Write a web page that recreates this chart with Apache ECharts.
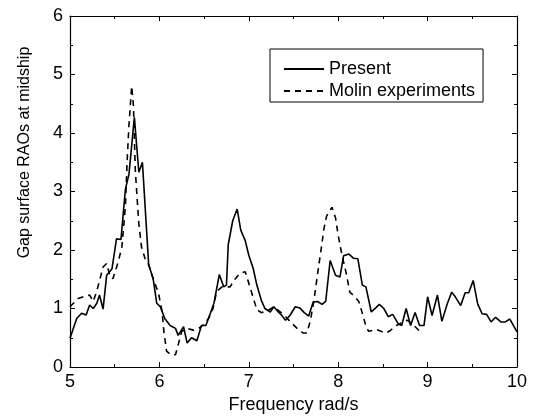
<!DOCTYPE html>
<html>
<head>
<meta charset="utf-8">
<script src="https://cdn.jsdelivr.net/npm/echarts@6/dist/echarts.min.js"></script>
<style>
html,body{margin:0;padding:0;background:#fff;}
#chart{width:537px;height:419px;}
</style>
</head>
<body>
<div id="chart"></div>
<script>
// Present (numerical) results
const presentFreq = [5.00,5.075,5.13,5.18,5.22,5.26,5.30,5.33,5.37,5.41,5.47,5.52,5.57,5.62,5.66,5.72,5.77,5.81,5.88,5.93,5.97,6.01,6.06,6.12,6.18,6.21,6.27,6.31,6.36,6.42,6.47,6.52,6.57,6.61,6.67,6.72,6.75,6.77,6.82,6.87,6.91,6.96,7.00,7.05,7.09,7.14,7.18,7.24,7.28,7.33,7.37,7.41,7.46,7.52,7.57,7.62,7.67,7.72,7.77,7.82,7.86,7.91,7.97,8.02,8.06,8.12,8.17,8.22,8.27,8.31,8.37,8.42,8.46,8.51,8.56,8.61,8.67,8.71,8.76,8.81,8.86,8.91,8.96,9.00,9.05,9.11,9.16,9.22,9.27,9.31,9.37,9.42,9.46,9.51,9.56,9.61,9.66,9.71,9.76,9.82,9.87,9.92,10.00];
const presentVal  = [0.49,0.83,0.92,0.89,1.06,1.00,1.09,1.23,0.99,1.57,1.68,2.19,2.18,3.04,3.30,4.27,3.33,3.50,1.75,1.51,1.09,1.03,0.83,0.71,0.66,0.54,0.69,0.41,0.50,0.45,0.71,0.71,0.92,1.09,1.58,1.37,1.40,2.09,2.50,2.70,2.34,2.16,1.91,1.68,1.40,1.14,1.00,0.94,1.03,0.94,0.88,0.80,0.88,1.03,1.01,0.93,0.87,1.11,1.12,1.07,1.12,1.82,1.57,1.54,1.90,1.93,1.86,1.85,1.40,1.37,0.94,1.01,1.07,1.00,0.86,0.90,0.74,0.71,1.00,0.71,0.93,0.71,0.71,1.20,0.88,1.23,0.78,1.08,1.28,1.20,1.05,1.27,1.27,1.48,1.08,0.91,0.90,0.77,0.85,0.77,0.77,0.82,0.60];

// Molin experiments
const molinFreq = [5.00,5.09,5.15,5.22,5.26,5.30,5.37,5.41,5.45,5.48,5.54,5.58,5.62,5.64,5.66,5.69,5.71,5.73,5.75,5.77,5.80,5.84,5.88,5.93,5.99,6.03,6.05,6.08,6.13,6.18,6.21,6.25,6.31,6.38,6.44,6.49,6.55,6.60,6.64,6.70,6.79,6.85,6.90,6.96,7.00,7.05,7.09,7.14,7.20,7.28,7.33,7.40,7.48,7.54,7.61,7.65,7.69,7.73,7.77,7.81,7.84,7.87,7.93,7.97,8.00,8.04,8.09,8.13,8.18,8.23,8.27,8.31,8.34,8.40,8.45,8.53,8.58,8.64,8.70,8.77,8.84,8.92];
const molinVal  = [1.03,1.17,1.20,1.23,1.12,1.30,1.71,1.77,1.54,1.51,1.80,2.05,2.75,3.55,4.15,4.80,4.46,3.38,2.90,2.45,2.05,1.85,1.75,1.51,1.26,0.95,0.61,0.27,0.21,0.21,0.38,0.61,0.66,0.63,0.66,0.72,0.83,1.00,1.29,1.37,1.37,1.51,1.60,1.63,1.43,1.18,0.98,0.93,0.95,1.03,0.97,0.88,0.75,0.66,0.58,0.58,0.80,1.15,1.60,2.02,2.36,2.58,2.73,2.55,2.25,1.93,1.60,1.28,1.21,1.12,0.92,0.70,0.61,0.63,0.63,0.58,0.62,0.70,0.75,0.80,0.72,0.60];

const seriesNames = ['Present', 'Molin experiments'];
const xName = 'Frequency rad/s';
const yName = 'Gap surface RAOs at midship';

const zip = (a, b) => a.map((v, i) => [v, b[i]]);
const FONT = "'Liberation Sans', Arial, sans-serif";

const chart = echarts.init(document.getElementById('chart'), null, {renderer: 'canvas'});

const tickCommon = {
  axisLine: {show: true, onZero: false, lineStyle: {color: '#000', width: 1.2}},
  axisTick: {show: true, inside: true, length: 5, lineStyle: {color: '#000', width: 1}},
  minorTick: {show: true, splitNumber: 2, length: 3, lineStyle: {color: '#000', width: 1}},
  splitLine: {show: false},
  minorSplitLine: {show: false}
};

chart.setOption({
  animation: false,
  backgroundColor: '#fff',
  textStyle: {fontFamily: FONT, color: '#000'},
  grid: {left: 70, right: 20, top: 16, bottom: 50, containLabel: false},
  legend: {
    orient: 'vertical',
    left: 270, top: 49,
    padding: [11, 8, 2, 13],
    itemGap: 4,
    itemWidth: 40, itemHeight: 14,
    borderColor: '#000', borderWidth: 1,
    itemStyle: {opacity: 0, color: 'transparent', borderWidth: 0},
    textStyle: {fontFamily: FONT, fontSize: 18, color: '#000'},
    data: seriesNames
  },
  xAxis: [
    Object.assign({
      type: 'value', min: 5, max: 10, interval: 1, position: 'bottom',
      name: xName, nameLocation: 'middle', nameGap: 29,
      nameTextStyle: {fontFamily: FONT, fontSize: 18, color: '#000'},
      axisLabel: {fontFamily: FONT, fontSize: 18, color: '#000', margin: 6}
    }, tickCommon),
    Object.assign({
      type: 'value', min: 5, max: 10, interval: 1, position: 'top',
      axisLabel: {show: false}
    }, tickCommon)
  ],
  yAxis: [
    Object.assign({
      type: 'value', min: 0, max: 6, interval: 1, position: 'left',
      name: yName, nameLocation: 'middle', nameGap: 37, nameRotate: 90,
      nameTextStyle: {fontFamily: FONT, fontSize: 16, color: '#000', padding: [0, 0, 0, 78]},
      axisLabel: {fontFamily: FONT, fontSize: 18, color: '#000', margin: 7}
    }, tickCommon),
    Object.assign({
      type: 'value', min: 0, max: 6, interval: 1, position: 'right',
      axisLabel: {show: false}
    }, tickCommon)
  ],
  series: [
    {
      name: seriesNames[0], type: 'line', xAxisIndex: 0, yAxisIndex: 0,
      data: zip(presentFreq, presentVal),
      symbol: 'none', showSymbol: false,
      lineStyle: {color: '#000', width: 1.6, type: 'solid'},
      itemStyle: {color: '#000'}
    },
    {
      name: seriesNames[1], type: 'line', xAxisIndex: 0, yAxisIndex: 0,
      data: zip(molinFreq, molinVal),
      symbol: 'none', showSymbol: false,
      lineStyle: {color: '#000', width: 1.6, type: [6, 5]},
      itemStyle: {color: '#000'}
    }
  ]
});
</script>
</body>
</html>
